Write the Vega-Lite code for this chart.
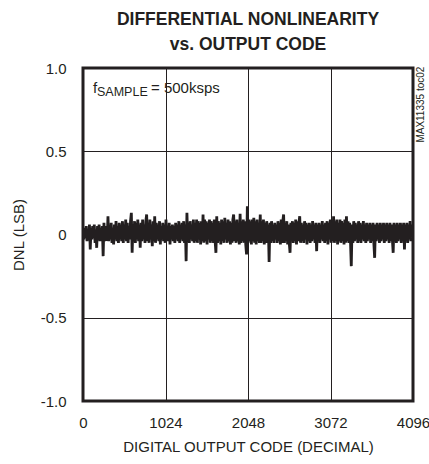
{
  "$schema": "https://vega.github.io/schema/vega-lite/v6.json",
  "width": 330,
  "height": 333,
  "autosize": "none",
  "padding": {"left": 83, "top": 68, "right": 16, "bottom": 63},
  "background": "white",
  "config": {
    "font": "Liberation Sans",
    "view": {"stroke": "#231f20", "strokeWidth": 3},
    "axis": {
      "labelFont": "Liberation Sans",
      "titleFont": "Liberation Sans",
      "labelFontSize": 15,
      "titleFontSize": 15,
      "titleFontWeight": "normal",
      "labelColor": "#231f20",
      "titleColor": "#231f20",
      "grid": true,
      "gridColor": "#231f20",
      "gridWidth": 1,
      "gridOpacity": 1,
      "ticks": false,
      "domain": false,
      "labelFlush": false,
      "labelOverlap": false
    }
  },
  "title": {
    "text": ["DIFFERENTIAL NONLINEARITY", "vs. OUTPUT CODE"],
    "font": "Liberation Sans",
    "fontSize": 17.5,
    "fontWeight": "bold",
    "color": "#231f20",
    "lineHeight": 25,
    "anchor": "middle",
    "frame": "group",
    "offset": 8
  },
  "layer": [
    {
      "data": {
        "values": "x,y\n0,0.02\n10,-0.03\n20,0.04\n30,-0.02\n40,0.05\n50,-0.04\n60,0.03\n70,-0.03\n80,0.06\n90,-0.09\n100,0.04\n110,-0.03\n120,0.05\n130,-0.02\n140,0.06\n150,-0.05\n160,0.03\n170,-0.08\n180,0.05\n190,-0.03\n200,0.06\n210,-0.04\n220,0.04\n230,-0.03\n240,0.05\n250,-0.13\n260,0.07\n270,-0.04\n280,0.05\n290,-0.03\n300,-0.03\n310,0.11\n320,-0.04\n330,0.05\n340,-0.03\n350,0.07\n360,-0.05\n370,0.04\n380,-0.06\n390,0.06\n400,-0.03\n410,0.08\n420,-0.04\n430,0.05\n440,-0.05\n450,0.07\n460,-0.03\n470,0.06\n480,-0.04\n490,0.08\n500,-0.05\n510,0.06\n520,-0.03\n530,0.09\n540,-0.04\n550,0.07\n560,-0.05\n570,0.05\n580,-0.03\n590,0.08\n600,0.13\n610,-0.11\n620,0.06\n630,-0.04\n640,0.08\n650,-0.05\n660,0.07\n670,-0.03\n680,0.09\n690,-0.04\n700,0.06\n710,-0.08\n720,0.07\n730,-0.04\n740,0.09\n750,-0.03\n760,0.06\n770,-0.05\n780,0.08\n790,0.12\n800,-0.04\n810,0.07\n820,-0.05\n830,0.09\n840,-0.03\n850,0.06\n860,-0.07\n870,0.08\n880,-0.04\n890,0.11\n900,-0.05\n910,0.07\n920,-0.03\n930,0.06\n940,-0.04\n950,0.08\n960,-0.06\n970,0.05\n980,-0.03\n990,0.07\n1000,-0.04\n1010,0.06\n1020,-0.05\n1030,0.09\n1040,-0.03\n1050,0.05\n1060,-0.04\n1070,0.07\n1080,-0.06\n1090,0.05\n1100,-0.03\n1110,0.06\n1120,-0.04\n1130,0.05\n1140,-0.05\n1150,0.07\n1160,-0.03\n1170,0.06\n1180,-0.04\n1190,0.08\n1200,-0.05\n1210,0.06\n1220,-0.03\n1230,0.07\n1240,-0.04\n1250,0.08\n1260,-0.05\n1270,0.06\n1280,-0.16\n1290,0.13\n1300,-0.04\n1310,0.07\n1320,-0.05\n1330,0.08\n1340,-0.03\n1350,0.06\n1360,-0.04\n1370,0.09\n1380,-0.05\n1390,0.07\n1400,-0.04\n1410,0.09\n1420,-0.05\n1430,0.08\n1440,-0.03\n1450,0.07\n1460,-0.06\n1470,0.08\n1480,-0.04\n1490,0.12\n1500,-0.05\n1510,0.09\n1520,-0.04\n1530,0.08\n1540,-0.06\n1550,0.07\n1560,-0.03\n1570,0.09\n1580,-0.05\n1590,0.08\n1600,-0.04\n1610,0.07\n1620,-0.05\n1630,0.09\n1640,-0.04\n1650,-0.11\n1660,0.11\n1670,-0.05\n1680,0.08\n1690,-0.04\n1700,0.07\n1710,-0.06\n1720,0.09\n1730,-0.04\n1740,0.08\n1750,-0.05\n1760,0.1\n1770,-0.03\n1780,0.07\n1790,-0.05\n1800,0.09\n1810,-0.04\n1820,0.08\n1830,-0.06\n1840,0.07\n1850,-0.05\n1860,0.09\n1870,0.12\n1880,-0.04\n1890,0.08\n1900,-0.05\n1910,0.09\n1920,-0.04\n1930,0.07\n1940,-0.06\n1950,0.125\n1960,-0.05\n1970,0.08\n1980,-0.04\n1990,0.09\n2000,-0.05\n2010,0.08\n2020,-0.06\n2030,-0.12\n2040,0.17\n2050,-0.05\n2060,0.09\n2070,-0.04\n2080,0.08\n2090,-0.06\n2100,0.09\n2110,-0.04\n2120,0.1\n2130,-0.05\n2140,0.08\n2150,-0.06\n2160,0.09\n2170,-0.04\n2180,0.07\n2190,-0.05\n2200,0.12\n2210,-0.05\n2220,0.08\n2230,-0.04\n2240,0.09\n2250,-0.06\n2260,0.07\n2270,-0.05\n2280,0.08\n2290,-0.04\n2300,0.06\n2310,-0.165\n2320,0.07\n2330,-0.05\n2340,0.08\n2350,-0.04\n2360,0.06\n2370,-0.05\n2380,0.07\n2390,-0.03\n2400,0.06\n2410,-0.05\n2420,0.08\n2430,-0.04\n2440,0.07\n2450,-0.06\n2460,0.09\n2470,-0.05\n2480,0.08\n2490,0.12\n2500,-0.05\n2510,0.07\n2520,-0.04\n2530,0.08\n2540,-0.06\n2550,0.06\n2560,-0.05\n2570,-0.11\n2580,0.07\n2590,-0.04\n2600,0.08\n2610,-0.05\n2620,0.07\n2630,-0.04\n2640,0.09\n2650,-0.06\n2660,0.08\n2670,-0.04\n2680,0.07\n2690,0.11\n2700,-0.05\n2710,0.07\n2720,-0.04\n2730,0.06\n2740,-0.05\n2750,0.08\n2760,-0.03\n2770,0.07\n2780,-0.06\n2790,0.06\n2800,-0.04\n2810,0.07\n2820,-0.05\n2830,0.06\n2840,-0.04\n2850,0.08\n2860,-0.03\n2870,0.06\n2880,-0.05\n2890,0.07\n2900,-0.1\n2910,0.06\n2920,-0.04\n2930,0.07\n2940,-0.05\n2950,0.06\n2960,-0.03\n2970,0.08\n2980,-0.04\n2990,0.06\n3000,-0.05\n3010,0.07\n3020,-0.04\n3030,0.08\n3040,-0.06\n3050,0.07\n3060,-0.03\n3070,0.09\n3080,-0.05\n3090,0.08\n3100,-0.04\n3110,0.11\n3120,-0.05\n3130,0.08\n3140,-0.04\n3150,0.09\n3160,-0.06\n3170,0.07\n3180,-0.04\n3190,0.09\n3200,-0.05\n3210,0.08\n3220,-0.04\n3230,0.07\n3240,-0.06\n3250,0.09\n3260,-0.05\n3270,0.11\n3280,-0.04\n3290,0.08\n3300,-0.05\n3310,0.07\n3320,-0.04\n3330,-0.19\n3340,0.06\n3350,-0.05\n3360,0.08\n3370,-0.04\n3380,0.07\n3390,-0.03\n3400,0.06\n3410,-0.05\n3420,0.08\n3430,-0.04\n3440,0.07\n3450,-0.05\n3460,0.06\n3470,-0.03\n3480,0.08\n3490,-0.04\n3500,0.06\n3510,-0.05\n3520,0.07\n3530,-0.04\n3540,0.06\n3550,-0.03\n3560,0.07\n3570,-0.05\n3580,0.06\n3590,-0.04\n3600,0.07\n3610,-0.05\n3620,-0.14\n3630,0.06\n3640,-0.04\n3650,0.07\n3660,-0.03\n3670,0.06\n3680,-0.05\n3690,0.07\n3700,-0.04\n3710,0.06\n3720,-0.03\n3730,0.07\n3740,-0.05\n3750,0.06\n3760,-0.04\n3770,0.07\n3780,-0.03\n3790,0.06\n3800,-0.05\n3810,0.07\n3820,-0.04\n3830,0.06\n3840,-0.03\n3850,-0.11\n3860,0.07\n3870,-0.04\n3880,0.06\n3890,-0.05\n3900,0.07\n3910,-0.04\n3920,0.06\n3930,-0.03\n3940,0.07\n3950,-0.05\n3960,0.06\n3970,-0.04\n3980,0.07\n3990,-0.09\n4000,0.06\n4010,-0.04\n4020,0.07\n4030,-0.05\n4040,0.06\n4050,-0.03\n4060,0.08\n4070,-0.04\n4080,0.06\n4090,-0.02",
        "format": {"type": "csv", "parse": {"x": "number", "y": "number"}}
      },
      "mark": {"type": "line", "color": "#231f20", "strokeWidth": 2.8, "clip": true},
      "encoding": {
        "x": {
          "field": "x",
          "type": "quantitative",
          "scale": {"domain": [0, 4096], "nice": false, "zero": false},
          "axis": {
            "values": [0, 1024, 2048, 3072, 4096],
            "format": "d",
            "title": "DIGITAL OUTPUT CODE (DECIMAL)",
            "labelPadding": 14,
            "titlePadding": 9
          }
        },
        "y": {
          "field": "y",
          "type": "quantitative",
          "scale": {"domain": [-1, 1], "nice": false},
          "axis": {
            "values": [-1, -0.5, 0, 0.5, 1],
            "labelExpr": "datum.value == 0 ? '0' : (datum.value < 0 ? '-' + format(-datum.value, '.1f') : format(datum.value, '.1f'))",
            "title": "DNL (LSB)",
            "labelPadding": 17,
            "titlePadding": 14
          }
        }
      }
    },
    {
      "data": {"values": [{"label": "f", "px": 124, "py": 0.85}]},
      "mark": {"type": "text", "align": "left", "baseline": "alphabetic", "font": "Liberation Sans", "fontWeight": "normal", "fontSize": 15, "fill": "#231f20"},
      "encoding": {"text": {"field": "label"}, "x": {"field": "px", "type": "quantitative"}, "y": {"field": "py", "type": "quantitative"}}
    },
    {
      "data": {"values": [{"label": "SAMPLE", "px": 174, "py": 0.832}]},
      "mark": {"type": "text", "align": "left", "baseline": "alphabetic", "font": "Liberation Sans", "fontWeight": "normal", "fontSize": 12.5, "fill": "#231f20"},
      "encoding": {"text": {"field": "label"}, "x": {"field": "px", "type": "quantitative"}, "y": {"field": "py", "type": "quantitative"}}
    },
    {
      "data": {"values": [{"label": "= 500ksps", "px": 844, "py": 0.85}]},
      "mark": {"type": "text", "align": "left", "baseline": "alphabetic", "font": "Liberation Sans", "fontWeight": "normal", "fontSize": 15, "fill": "#231f20"},
      "encoding": {"text": {"field": "label"}, "x": {"field": "px", "type": "quantitative"}, "y": {"field": "py", "type": "quantitative"}}
    },
    {
      "data": {"values": [{"label": "MAX11335 toc02", "px": 4195, "py": 0.78}]},
      "mark": {"type": "text", "align": "center", "baseline": "middle", "angle": 270, "font": "Liberation Sans", "fontWeight": "normal", "fontSize": 10, "fill": "#231f20"},
      "encoding": {"text": {"field": "label"}, "x": {"field": "px", "type": "quantitative"}, "y": {"field": "py", "type": "quantitative"}}
    }
  ]
}
